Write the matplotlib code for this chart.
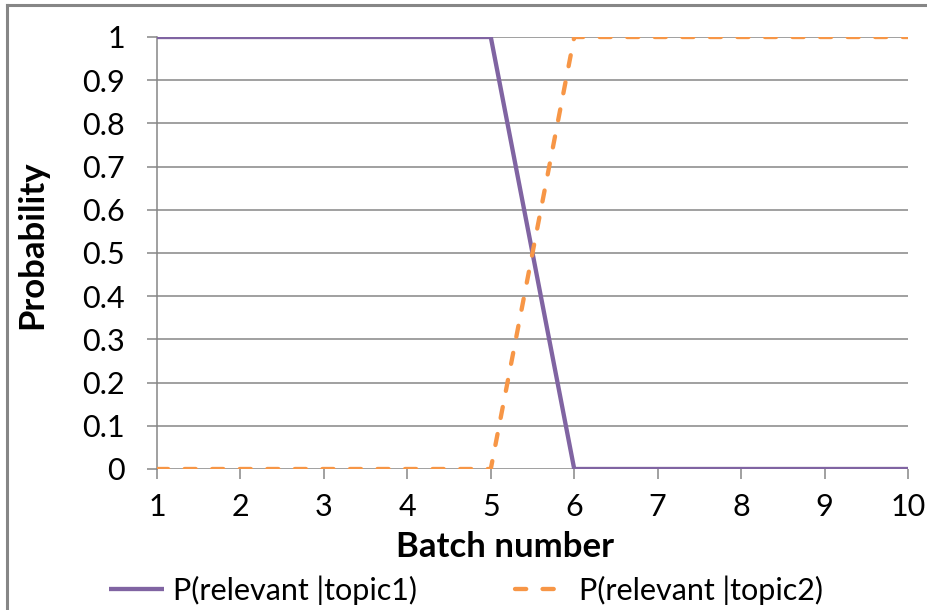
import matplotlib
matplotlib.use("Agg")
import matplotlib.pyplot as plt
from matplotlib.lines import Line2D

plt.rcParams["font.family"] = ["Lato", "DejaVu Sans"]

# Probability of relevance per batch for each topic
batches = [1, 2, 3, 4, 5, 6, 7, 8, 9, 10]
p_topic1 = [1, 1, 1, 1, 1, 0, 0, 0, 0, 0]
p_topic2 = [0, 0, 0, 0, 0, 1, 1, 1, 1, 1]
y_ticks = [0, 0.1, 0.2, 0.3, 0.4, 0.5, 0.6, 0.7, 0.8, 0.9, 1]
y_tick_labels = ["0", "0.1", "0.2", "0.3", "0.4", "0.5", "0.6", "0.7", "0.8", "0.9", "1"]
series_labels = ["P(relevant |topic1)", "P(relevant |topic2)"]

PURPLE = "#8064A2"
ORANGE = "#F79646"
GRID = "#868686"

fig = plt.figure(figsize=(9.28, 6.1), dpi=100)
ax = fig.add_axes([157 / 928, 1 - 469 / 610, 751 / 928, 432 / 610])

# horizontal gridlines
for y in y_ticks:
    ax.axhline(y, color=GRID, lw=1.1, zorder=1)

l1, = ax.plot(batches, p_topic1, color=PURPLE, lw=3.1, zorder=3,
              solid_capstyle="butt", label=series_labels[0])
l2, = ax.plot(batches, p_topic2, color=ORANGE, lw=3.1, zorder=3,
              dashes=(2.6, 3.8), dash_capstyle="round", label=series_labels[1])

ax.set_xlim(1, 10)
ax.set_ylim(0, 1)
ax.set_xticks(batches)
ax.set_xticklabels([str(b) for b in batches])
ax.set_yticks(y_ticks)
ax.set_yticklabels(y_tick_labels)

for side in ["top", "right", "bottom"]:
    ax.spines[side].set_visible(False)
ax.spines["left"].set_color(GRID)
ax.spines["left"].set_linewidth(1.1)

ax.tick_params(axis="y", length=7, width=1.1, color=GRID, labelsize=22, pad=16)
ax.tick_params(axis="x", length=7, width=1.1, color=GRID, labelsize=22,
               direction="out", pad=10)

ax.set_xlabel("Batch number", fontsize=25, fontweight="bold")
ax.set_ylabel("Probability", fontsize=25, fontweight="bold")
ax.xaxis.label.set_va("center")
ax.yaxis.label.set_va("center")
ax.xaxis.set_label_coords((505 - 157) / 751, (469 - 547) / 432)
ax.yaxis.set_label_coords((32 - 157) / 751, (469 - 245) / 432)

fig.legend(handles=[l1, l2], loc="center", bbox_to_anchor=(466 / 928, 1 - 590 / 610),
           ncol=2, frameon=False, fontsize=22, handlelength=1.8,
           handletextpad=0.3, columnspacing=3.2)

# chart frame on left and top edges
fig.add_artist(Line2D([7 / 928, 7 / 928], [0, 1 - 5 / 610], color=GRID, lw=2.2,
                      transform=fig.transFigure))
fig.add_artist(Line2D([7 / 928, 1], [1 - 5 / 610, 1 - 5 / 610], color=GRID, lw=2.2,
                      transform=fig.transFigure))

fig.savefig("out.png", dpi=100)
